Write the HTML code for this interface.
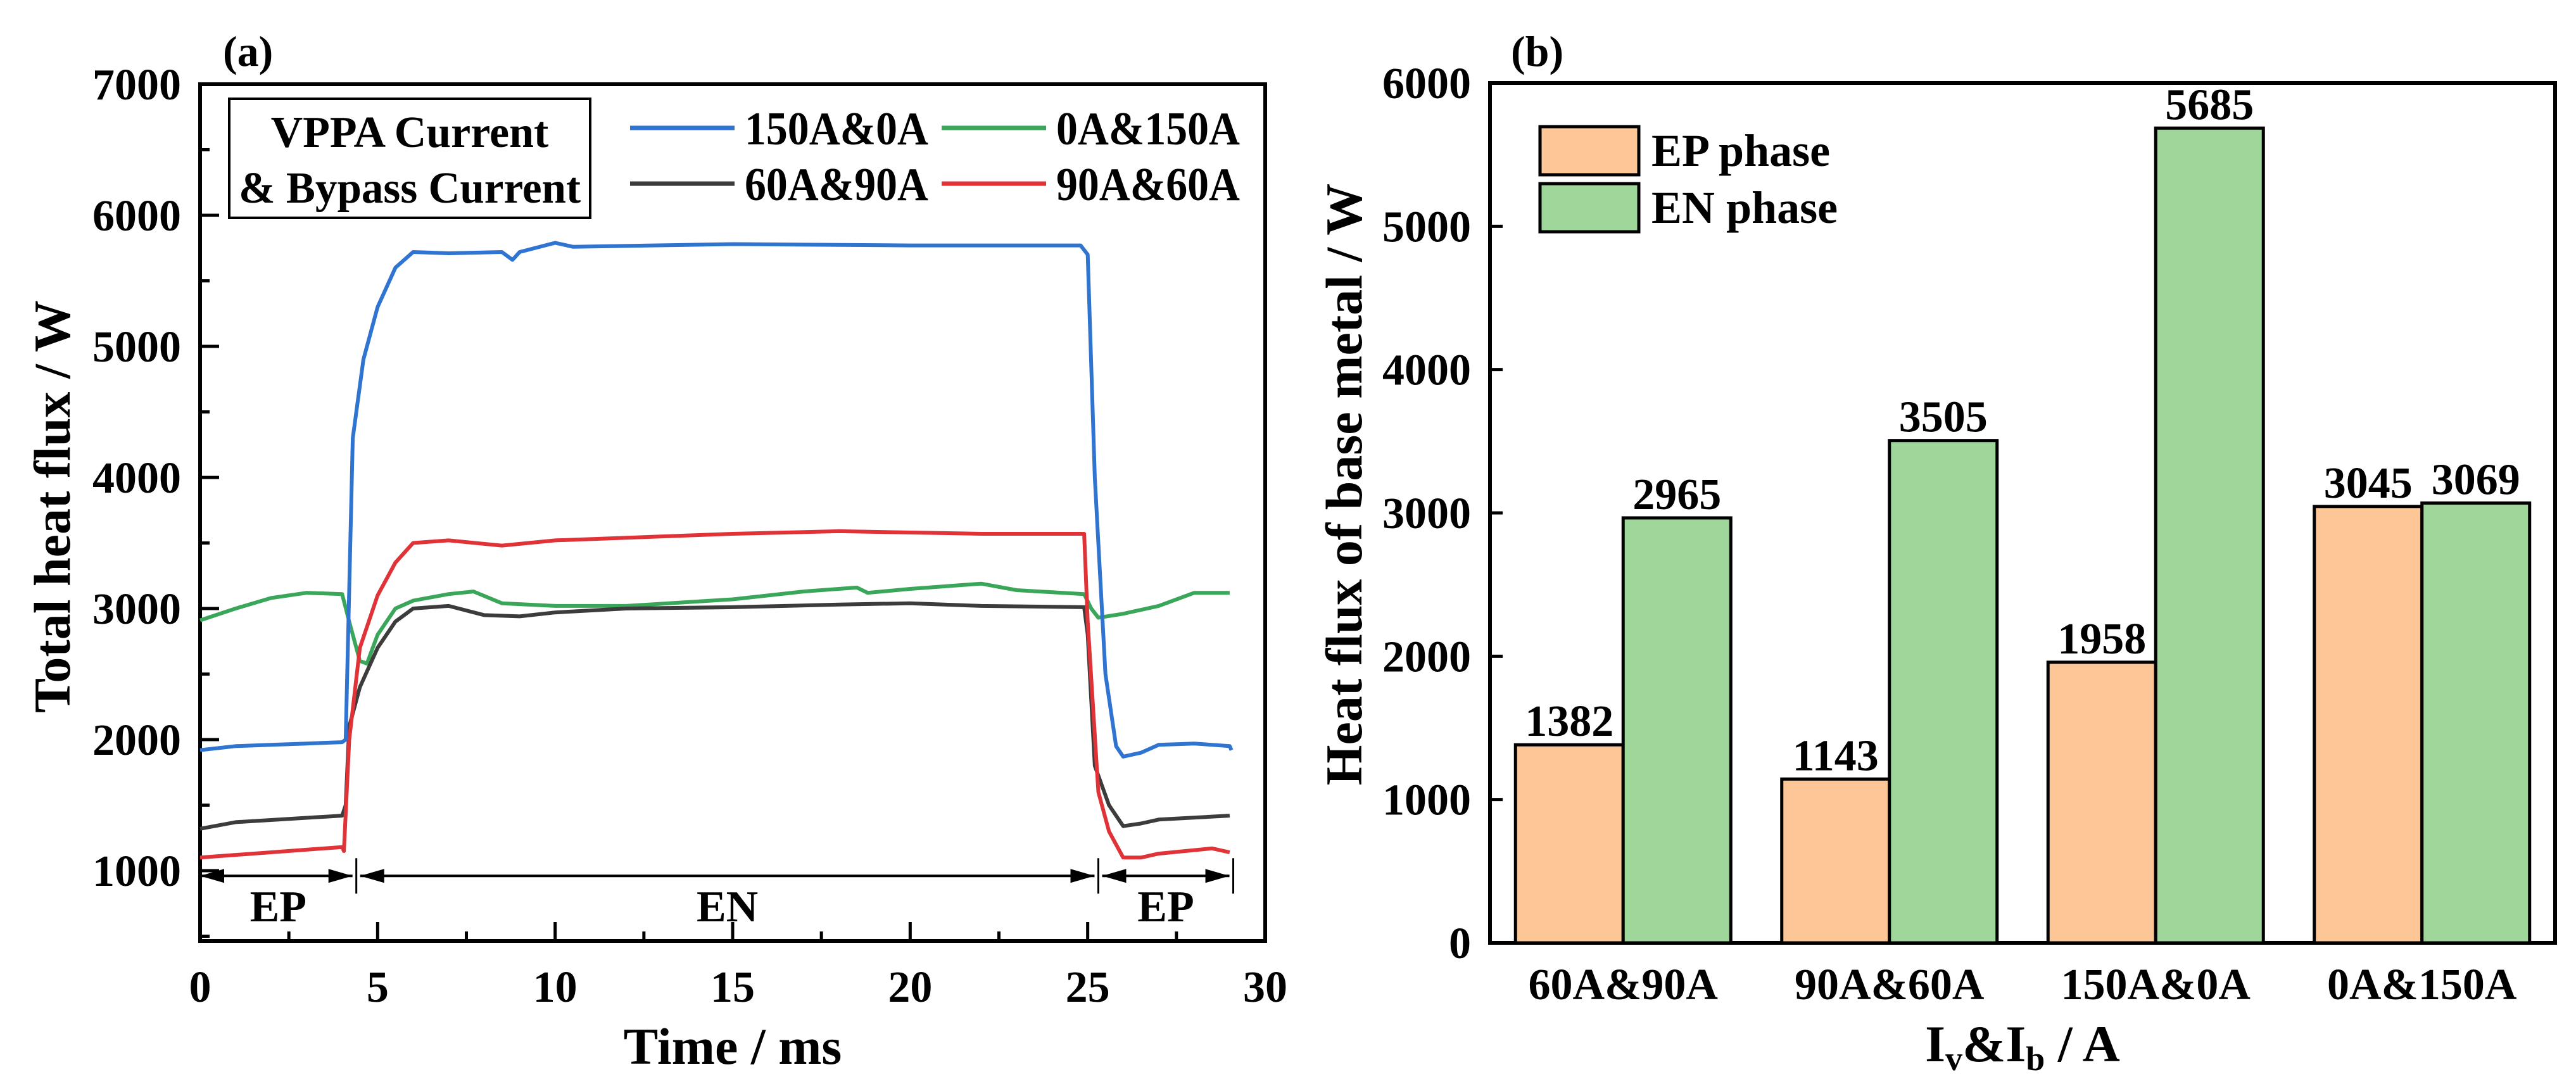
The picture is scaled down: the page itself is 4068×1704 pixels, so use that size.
<!DOCTYPE html>
<html><head><meta charset="utf-8"><style>
html,body{margin:0;padding:0;background:#fff;}
svg{display:block;font-family:"Liberation Serif",serif;font-weight:bold;}
</style></head><body>
<svg id="fig" width="4068" height="1704" viewBox="0 0 4068 1704" xmlns="http://www.w3.org/2000/svg">
<g id="chartA"></g>
<g id="chartB"></g>
</svg>
<script>
// ---------- Chart (a) data ----------
const xTicksA = [0,5,10,15,20,25,30];
const yTicksA = [1000,2000,3000,4000,5000,6000,7000];
const seriesNames = ["150A&0A","0A&150A","60A&90A","90A&60A"];
const blueT = [0,1,2,3,4,4.1,4.3,4.6,5,5.5,6,7,8.5,8.8,9,10,10.5,15,20,24.8,25,25.2,25.5,25.8,26,26.5,27,28,29,29.05];
const blueV = [1920,1950,1960,1970,1980,2000,4300,4900,5300,5600,5720,5710,5720,5660,5720,5790,5760,5780,5770,5770,5700,4000,2500,1950,1870,1900,1960,1970,1950,1920];
const greenT = [0,1,2,3,4,4.2,4.5,4.7,5,5.5,6,7,7.7,8.5,10,12,15,17,18.5,18.8,20,22,23,24.9,25.1,25.3,26,27,28,29];
const greenV = [2910,3000,3080,3120,3110,2900,2600,2580,2800,3000,3060,3110,3130,3040,3020,3020,3070,3130,3160,3120,3150,3190,3140,3110,3000,2930,2960,3020,3120,3120];
const blackT = [0,1,4,4.1,4.2,4.5,5,5.5,6,7,8,9,10,12,15,18,20,22,24.9,25,25.2,25.6,26,26.5,27,29];
const blackV = [1320,1370,1420,1500,2100,2400,2700,2900,3000,3020,2950,2940,2970,3000,3010,3030,3040,3020,3010,2800,1800,1500,1340,1360,1390,1420];
const redT = [0,4,4.05,4.2,4.5,5,5.5,6,7,8.5,10,15,18,22,24.9,25,25.3,25.6,26,26.5,27,28.5,29];
const redV = [1100,1180,1150,2000,2700,3100,3350,3500,3520,3480,3520,3570,3590,3570,3570,2900,1600,1300,1100,1100,1130,1170,1140];
const phaseBounds = [0,4.4,25.3,29.1];
const phaseLabels = ["EP","EN","EP"];

// ---------- Chart (b) data ----------
const categories = ["60A&90A","90A&60A","150A&0A","0A&150A"];
const epValues = [1382,1143,1958,3045];
const enValues = [2965,3505,5685,3069];
const yTicksB = [0,1000,2000,3000,4000,5000,6000];

const NS="http://www.w3.org/2000/svg";
function mk(parent,tag,attrs,text){const e=document.createElementNS(NS,tag);for(const k in attrs)e.setAttribute(k,attrs[k]);if(text!==undefined)e.textContent=text;parent.appendChild(e);return e;}

// ===== Chart A =====
const A=document.getElementById('chartA');
const aL=316,aR=1998,aT=133,aB=1486;
const xA=t=>aL+(t-0)/30*(aR-aL);
const yA=v=>1375-(v-1000)/1000*207;
let e=mk(A,'rect',{x:aL,y:aT,width:aR-aL,height:aB-aT,fill:'none',stroke:'#000','stroke-width':6});


for(let t=0;t<=30;t+=2.5){const major=t%5===0;const x=xA(t);
 mk(A,'line',{x1:x,y1:aB,x2:x,y2:aB-(major?30:15),stroke:'#000','stroke-width':5});}
xTicksA.forEach(t=>{e=mk(A,'text',{x:xA(t),y:1582,'font-size':70,'text-anchor':'middle'},String(t));
 
 });
for(let v=500;v<=7000;v+=500){const major=v%1000===0;const y=yA(v);if(y>aB)continue;
 mk(A,'line',{x1:aL,y1:y,x2:aL+(major?30:15),y2:y,stroke:'#000','stroke-width':5});}
yTicksA.forEach(v=>{e=mk(A,'text',{x:286,y:yA(v)+24,'font-size':70,'text-anchor':'end'},String(v));
 
 });
e=mk(A,'text',{x:0,y:0,'font-size':82,'text-anchor':'middle',transform:'translate(110,800) rotate(-90)'},'Total heat flux / W');


e=mk(A,'text',{x:1157,y:1680,'font-size':82,'text-anchor':'middle'},'Time / ms');


e=mk(A,'text',{x:352,y:104,'font-size':68},'(a)');


const series=[[blueT,blueV,'#2f74d0','series-150a-0a'],[greenT,greenV,'#3aa65a','series-0a-150a'],[blackT,blackV,'#3c3c3c','series-60a-90a'],[redT,redV,'#e03338','series-90a-60a']];
[series[1],series[2],series[3],series[0]].forEach(s=>{
 const d=s[0].map((t,i)=>(i?'L':'M')+xA(t).toFixed(1)+','+yA(s[1][i]).toFixed(1)).join(' ');
 const p=mk(A,'path',{d:d,fill:'none',stroke:s[2],'stroke-width':6,'stroke-linejoin':'round'});
 
 
});
const ay=yA(960);
function arrowHead(x,dir){mk(A,'path',{d:`M${x},${ay} L${x-dir*38},${ay-11} L${x-dir*38},${ay+11} Z`,fill:'#000'});}
for(let i=0;i<3;i++){const x1=xA(phaseBounds[i])+(i?6:0),x2=xA(phaseBounds[i+1])-6;
 mk(A,'line',{x1:x1,y1:ay,x2:x2,y2:ay,stroke:'#000','stroke-width':4});
 arrowHead(x1,-1);arrowHead(x2,1);
 e=mk(A,'text',{x:(xA(phaseBounds[i])+xA(phaseBounds[i+1]))/2,y:1455,'font-size':70,'text-anchor':'middle'},phaseLabels[i]);
 
 }
[1,2,3].forEach(i=>mk(A,'line',{x1:xA(phaseBounds[i]),y1:ay-28,x2:xA(phaseBounds[i]),y2:ay+28,stroke:'#000','stroke-width':3}));
e=mk(A,'rect',{x:362,y:156,width:570,height:188,fill:'#fff',stroke:'#000','stroke-width':4});


mk(A,'text',{x:647,y:232,'font-size':70,'text-anchor':'middle'},'VPPA Current');
mk(A,'text',{x:647,y:320,'font-size':70,'text-anchor':'middle',textLength:540,lengthAdjust:'spacingAndGlyphs'},'& Bypass Current');
const leg=[[995,202,'#2f74d0',seriesNames[0]],[1487,202,'#3aa65a',seriesNames[1]],[995,290,'#3c3c3c',seriesNames[2]],[1487,290,'#e03338',seriesNames[3]]];
leg.forEach(l=>{const g=mk(A,'g',{});
 
 
 mk(g,'line',{x1:l[0],y1:l[1],x2:l[0]+165,y2:l[1],stroke:l[2],'stroke-width':7});
 mk(g,'text',{x:l[0]+181,y:l[1]+26,'font-size':74,textLength:290,lengthAdjust:'spacingAndGlyphs'},l[3]);});

// ===== Chart B =====
const B=document.getElementById('chartB');
const bL=2353,bR=4035,bT=131,bB=1489;
const yB=v=>bB-v/6000*(bB-bT);
const groupW=(bR-bL)/categories.length;const barW=170;
e=mk(B,'rect',{x:bL,y:bT,width:bR-bL,height:bB-bT,fill:'none',stroke:'#000','stroke-width':6});


yTicksB.forEach(v=>{mk(B,'line',{x1:bL,y1:yB(v),x2:bL+20,y2:yB(v),stroke:'#000','stroke-width':5});
 e=mk(B,'text',{x:2323,y:yB(v)+24,'font-size':70,'text-anchor':'end'},String(v));
 
 });
categories.forEach((c,i)=>{const cx=bL+groupW*(i+0.5);
 let r=mk(B,'rect',{x:cx-barW,y:yB(epValues[i]),width:barW,height:bB-yB(epValues[i]),fill:'#fcc696',stroke:'#000','stroke-width':5});
 
 
 r=mk(B,'rect',{x:cx,y:yB(enValues[i]),width:barW,height:bB-yB(enValues[i]),fill:'#9fd79b',stroke:'#000','stroke-width':5});
 
 
 e=mk(B,'text',{x:cx-barW/2,y:yB(epValues[i])-14,'font-size':70,'text-anchor':'middle'},String(epValues[i]));
 
 
 e=mk(B,'text',{x:cx+barW/2,y:yB(enValues[i])-14,'font-size':70,'text-anchor':'middle'},String(enValues[i]));
 
 
 e=mk(B,'text',{x:cx,y:1578,'font-size':70,'text-anchor':'middle'},c);
 
 
});
e=mk(B,'text',{x:0,y:0,'font-size':82,'text-anchor':'middle',transform:'translate(2150,765) rotate(-90)'},'Heat flux of base metal / W');


e=mk(B,'text',{x:3194,y:1676,'font-size':82,'text-anchor':'middle'});


e.innerHTML='I<tspan font-size="54" dy="14">v</tspan><tspan dy="-14">&amp;I</tspan><tspan font-size="54" dy="14">b</tspan><tspan dy="-14"> / A</tspan>';
e=mk(B,'text',{x:2386,y:104,'font-size':68},'(b)');


[['EP phase','#fcc696',200],['EN phase','#9fd79b',290]].forEach(l=>{const g=mk(B,'g',{});
 
 
 mk(g,'rect',{x:2432,y:l[2],width:156,height:76,fill:l[1],stroke:'#000','stroke-width':5});
 mk(g,'text',{x:2608,y:l[2]+62,'font-size':72},l[0]);});
</script>
</body></html>
